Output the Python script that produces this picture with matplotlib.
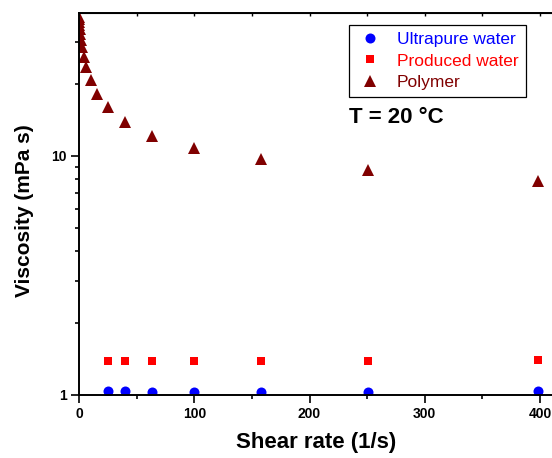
import numpy as np
import matplotlib
matplotlib.use('Agg')
import matplotlib.pyplot as plt
from matplotlib.ticker import FixedLocator, NullFormatter, LogLocator

plt.rcParams['font.family'] = ['Liberation Sans', 'DejaVu Sans']

# Water samples (same shear rate steps for both)
shear_water = [25.1, 39.8, 63.1, 100, 158, 251, 398]
visc_ultrapure = [1.042, 1.042, 1.032, 1.032, 1.032, 1.032, 1.042]
visc_produced = [1.391, 1.391, 1.391, 1.385, 1.391, 1.391, 1.40]

# Polymer solution flow curve
shear_polymer = [0.10, 0.16, 0.25, 0.40, 0.63, 1.0, 1.58, 2.51, 3.98, 6.31,
                 10.0, 15.8, 25.1, 39.8, 63.1, 100, 158, 251, 398]
visc_polymer = [38.0, 37.3, 36.2, 35.2, 33.8, 32.3, 30.4, 28.5, 25.9, 23.4,
                20.7, 18.2, 16.0, 13.9, 12.1, 10.8, 9.66, 8.71, 7.84]

series_names = ['Ultrapure water', 'Produced water', 'Polymer']
series_colors = ['#0000ff', '#ff0000', '#800000']

W, H = 552, 458
fig = plt.figure(figsize=(W / 100, H / 100), dpi=100)
x_max = 420
px_per_unit = 1.1525
ax = fig.add_axes([79 / W, 63 / H, x_max * px_per_unit / W, 382 / H])

ax.plot(shear_water, visc_ultrapure, 'o', color=series_colors[0], ms=7.2,
        mew=0, label=series_names[0])
ax.plot(shear_water, visc_produced, 's', color=series_colors[1], ms=6,
        mew=0, label=series_names[1])
ax.plot(shear_polymer, visc_polymer, '^', color=series_colors[2], ms=8.4,
        mew=0, label=series_names[2])

ax.set_yscale('log')
ax.set_xlim(0, x_max)
ax.set_ylim(1, 39.5)

# axis styling
for side in ['left', 'bottom', 'top']:
    ax.spines[side].set_linewidth(1.4)
ax.spines['right'].set_visible(False)

ax.xaxis.set_major_locator(FixedLocator([0, 100, 200, 300, 400]))
ax.xaxis.set_minor_locator(FixedLocator([50, 150, 250, 350]))
ax.yaxis.set_major_locator(FixedLocator([1, 10]))
ax.yaxis.set_minor_locator(LogLocator(base=10, subs=np.arange(2, 10)))
ax.yaxis.set_major_formatter(plt.FuncFormatter(lambda v, p: f'{v:g}'))
ax.yaxis.set_minor_formatter(NullFormatter())

ax.tick_params(which='major', direction='out', length=5.8, width=1.2, pad=3,
               labelsize=10)
ax.tick_params(which='minor', direction='out', length=3, width=1.2)
for lab in ax.get_xticklabels() + ax.get_yticklabels():
    lab.set_fontweight('bold')

# small inward ticks along the top edge
top = ax.secondary_xaxis('top')
top.set_xticks(np.arange(0, 401, 50))
top.tick_params(direction='in', length=2.5, width=1.0, labeltop=False)

ax.set_xlabel('Shear rate (1/s)', fontsize=16, fontweight='bold')
ax.xaxis.set_label_coords(206 / x_max, -0.098)
ax.xaxis.label.set_va('top')
ax.set_ylabel('Viscosity (mPa s)', fontsize=15, fontweight='bold')
ax.yaxis.set_label_coords(-45 / (x_max * px_per_unit), 0.482)

leg = ax.legend(loc='upper left', bbox_to_anchor=(349.3 / W, 1 - 25 / H),
                bbox_transform=fig.transFigure, borderaxespad=0,
                fontsize=12.5, fancybox=False, edgecolor='black',
                framealpha=1, borderpad=0.4, handlelength=1.6,
                handletextpad=0.75, labelspacing=0.36)
leg.get_frame().set_linewidth(0.9)
for txt, col in zip(leg.get_texts(), series_colors):
    txt.set_color(col)

fig.text(349 / W, 1 - 123.3 / H, 'T = 20 °C', fontsize=16, fontweight='bold',
         ha='left', va='baseline')

fig.savefig('out.png', dpi=100)
